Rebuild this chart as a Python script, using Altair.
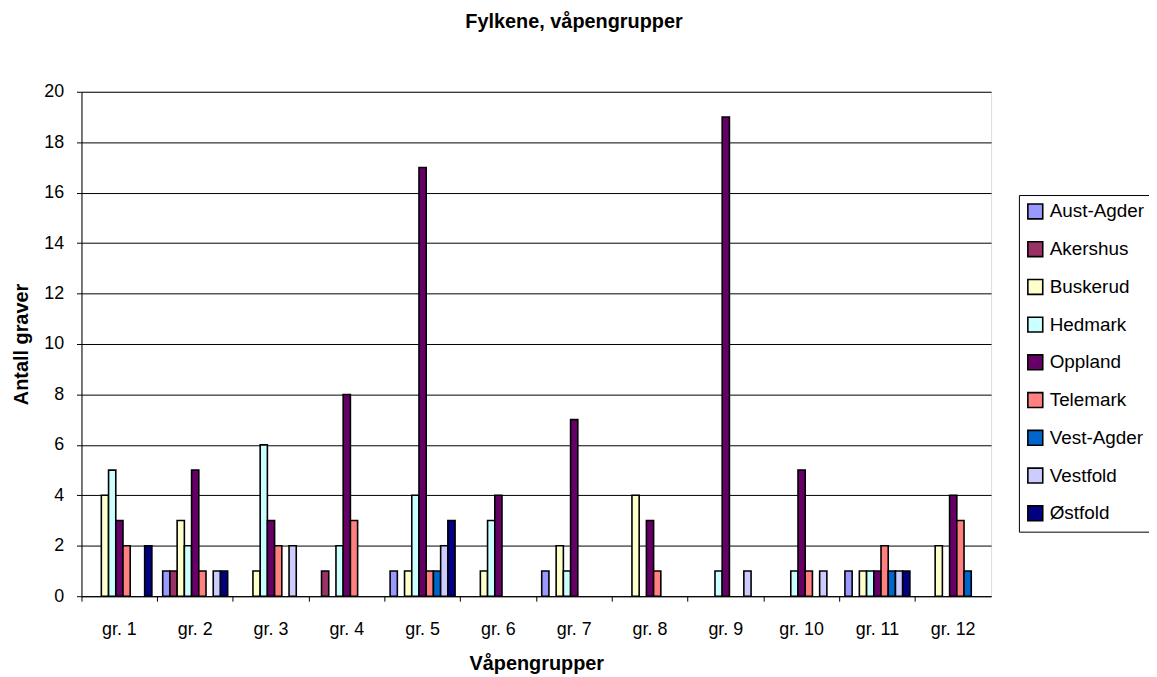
import altair as alt
import pandas as pd

groups = ["gr. 1", "gr. 2", "gr. 3", "gr. 4", "gr. 5", "gr. 6",
          "gr. 7", "gr. 8", "gr. 9", "gr. 10", "gr. 11", "gr. 12"]
series = ["Aust-Agder", "Akershus", "Buskerud", "Hedmark", "Oppland",
          "Telemark", "Vest-Agder", "Vestfold", "Østfold"]
colors = ["#9999FF", "#993366", "#FFFFCC", "#CCFFFF", "#660066",
          "#FF8080", "#0066CC", "#CCCCFF", "#000080"]

aust_agder = [0, 1, 0, 0, 1, 0, 1, 0, 0, 0, 1, 0]
akershus   = [0, 1, 0, 1, 0, 0, 0, 0, 0, 0, 0, 0]
buskerud   = [4, 3, 1, 0, 1, 1, 2, 4, 0, 0, 1, 2]
hedmark    = [5, 2, 6, 2, 4, 3, 1, 0, 1, 1, 1, 0]
oppland    = [3, 5, 3, 8, 17, 4, 7, 3, 19, 5, 1, 4]
telemark   = [2, 1, 2, 3, 1, 0, 0, 1, 0, 1, 2, 3]
vest_agder = [0, 0, 0, 0, 1, 0, 0, 0, 0, 0, 1, 1]
vestfold   = [0, 1, 2, 0, 2, 0, 0, 0, 1, 1, 1, 0]
ostfold    = [2, 1, 0, 0, 3, 0, 0, 0, 0, 0, 1, 0]

all_values = [aust_agder, akershus, buskerud, hedmark, oppland,
              telemark, vest_agder, vestfold, ostfold]

rows = []
for s, vals in zip(series, all_values):
    for g, v in zip(groups, vals):
        rows.append({"g": g, "s": s, "v": v})
df = pd.DataFrame(rows)

W, H = 916, 508
FONT = "Liberation Sans"

chart = alt.Chart(df).transform_filter("datum.v > 0").mark_bar(
    stroke="black", strokeWidth=1.6
).encode(
    x=alt.X("g:N", sort=groups,
            scale=alt.Scale(domain=groups, paddingInner=0, paddingOuter=0),
            axis=alt.Axis(title="Våpengrupper", labelAngle=0, bandPosition=0,
                          labelFontSize=18, labelFont=FONT,
                          labelColor="black", labelPadding=20,
                          titleFontSize=20, titleFont=FONT, titleFontWeight="bold",
                          titleColor="black", titlePadding=15,
                          tickColor="black", tickSize=5, domainColor="black",
                          grid=False)),
    xOffset=alt.XOffset("s:N",
                        scale=alt.Scale(domain=series, paddingInner=0, paddingOuter=0.75)),
    y=alt.Y("v:Q", scale=alt.Scale(domain=[0, 20], nice=False),
            axis=alt.Axis(title="Antall graver", values=list(range(0, 21, 2)),
                          labelFontSize=18, labelFont=FONT, labelColor="black",
                          labelPadding=13, titleFontSize=20, titleFont=FONT,
                          titleFontWeight="bold", titleColor="black", titlePadding=12,
                          tickColor="black", tickSize=5, domainColor="black",
                          grid=True, gridColor="black", gridWidth=1, gridOpacity=1)),
    color=alt.Color("s:N", scale=alt.Scale(domain=series, range=colors),
                    legend=alt.Legend(title=None, orient="none", legendX=944, legendY=104,
                                      fillColor="white", strokeColor="black", padding=7,
                                      labelFontSize=19, labelFont=FONT, labelColor="black",
                                      symbolType="square", symbolSize=225,
                                      symbolStrokeColor="black", symbolStrokeWidth=1.6,
                                      symbolOpacity=1, rowPadding=15, labelOffset=5)),
).properties(
    width=W, height=H,
    title=alt.TitleParams("Fylkene, våpengrupper", fontSize=20, font=FONT,
                          fontWeight="bold", color="black", anchor="middle",
                          dx=38, offset=51),
    autosize=alt.AutoSizeParams(type="none"),
    padding={"left": 74, "top": 82, "right": 159, "bottom": 79},
).configure_view(
    fill="#C0C0C0", stroke="#808080", strokeWidth=1
).configure(background="white")

chart.save("out.html", embed_options={"renderer": "svg", "actions": False})
